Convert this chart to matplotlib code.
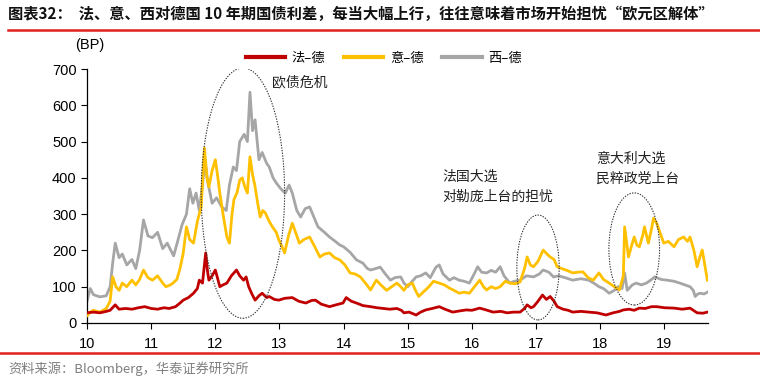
import matplotlib
matplotlib.use("Agg")
import matplotlib.pyplot as plt
from matplotlib.patches import Ellipse

plt.rcParams['font.family'] = ['Liberation Sans', 'Noto Sans CJK SC', 'DejaVu Sans']

# ---------------- data (fractional year, bp) ----------------
es_t = [10.00,10.05,10.10,10.20,10.30,10.36,10.40,10.44,10.50,10.55,10.62,10.70,10.76,10.82,10.88,10.95,
        11.02,11.10,11.18,11.25,11.35,11.42,11.48,11.55,11.60,11.65,11.70,11.75,11.80,11.84,11.88,11.95,
        12.02,12.10,12.17,12.22,12.28,12.33,12.38,12.45,12.50,12.54,12.58,12.62,12.68,12.73,12.80,12.84,12.90,12.95,
        13.02,13.09,13.15,13.20,13.27,13.33,13.40,13.47,13.54,13.60,13.70,13.78,13.87,13.94,
        14.00,14.10,14.20,14.30,14.37,14.42,14.50,14.57,14.65,14.73,14.80,14.89,14.94,
        15.00,15.07,15.13,15.20,15.28,15.35,15.44,15.49,15.55,15.65,15.72,15.80,15.88,15.96,
        16.02,16.09,16.15,16.23,16.30,16.37,16.44,16.50,16.59,16.66,16.75,16.85,16.96,
        17.05,17.11,17.20,17.27,17.35,17.45,17.57,17.70,17.82,17.90,17.98,
        18.05,18.14,18.22,18.28,18.34,18.38,18.42,18.50,18.56,18.64,18.72,18.80,18.85,18.95,
        19.04,19.15,19.24,19.32,19.40,19.45,19.48,19.52,19.56,19.62,19.67]
es_v = [60,95,78,72,75,100,165,220,180,190,160,175,150,200,284,240,
        235,250,205,220,185,230,270,300,370,330,358,310,380,450,390,330,
        345,320,310,380,430,420,500,520,500,636,530,560,450,470,440,430,400,386,
        370,358,380,358,310,292,315,320,290,265,250,237,225,215,
        210,195,174,165,150,146,150,154,135,118,125,127,110,
        100,115,127,130,138,125,154,160,135,118,125,118,115,110,
        130,155,140,138,145,140,155,130,110,115,118,130,127,
        135,146,140,127,130,125,118,122,118,110,100,
        95,82,90,100,95,138,90,105,110,105,110,120,127,120,
        118,115,110,105,100,90,73,80,82,80,85]

it_t = [10.00,10.05,10.10,10.20,10.30,10.36,10.40,10.45,10.50,10.55,10.62,10.70,10.76,10.82,10.88,10.95,
        11.02,11.10,11.18,11.23,11.30,11.34,11.40,11.45,11.50,11.55,11.60,11.66,11.72,11.78,11.83,11.87,11.90,11.95,
        12.00,12.04,12.07,12.12,12.18,12.22,12.26,12.29,12.34,12.38,12.42,12.46,12.50,12.54,12.58,12.62,12.66,12.70,
        12.74,12.78,12.84,12.89,12.95,12.99,
        13.04,13.08,13.14,13.20,13.25,13.31,13.38,13.47,13.55,13.63,13.70,13.78,13.86,13.94,
        14.02,14.10,14.18,14.26,14.34,14.42,14.51,14.58,14.67,14.75,14.83,14.89,14.94,
        15.00,15.07,15.12,15.17,15.24,15.33,15.40,15.49,15.57,15.65,15.72,15.80,15.88,15.96,
        16.04,16.12,16.18,16.23,16.30,16.37,16.44,16.52,16.59,16.67,16.75,16.82,16.86,16.91,16.96,
        17.03,17.11,17.17,17.22,17.28,17.33,17.40,17.48,17.57,17.65,17.73,17.81,17.89,17.98,
        18.05,18.14,18.22,18.30,18.36,18.38,18.44,18.50,18.53,18.57,18.61,18.66,18.69,18.75,18.80,18.83,18.88,18.93,18.99,
        19.06,19.15,19.22,19.30,19.36,19.40,19.46,19.51,19.55,19.59,19.63,19.67]
it_v = [20,30,35,30,40,60,127,100,90,110,100,118,105,120,146,125,
        118,130,110,100,105,110,120,150,193,265,230,220,280,320,482,400,375,420,
        450,400,358,300,237,220,300,340,360,394,400,375,358,458,410,375,330,292,
        310,303,280,265,250,229,
        210,193,240,275,250,220,230,237,210,182,190,193,180,174,
        160,138,135,127,110,91,118,105,90,100,110,100,90,
        105,110,90,73,85,100,115,110,105,96,90,82,85,82,
        100,118,100,91,100,95,100,115,110,108,113,150,182,160,155,
        170,201,190,182,175,155,150,145,138,140,141,125,118,138,
        120,110,100,91,130,265,182,220,237,215,210,240,265,220,260,289,275,250,220,
        225,210,230,237,225,237,200,155,180,201,160,118]

fr_t = [10.00,10.10,10.20,10.30,10.36,10.44,10.50,10.60,10.70,10.80,10.90,
        11.00,11.10,11.20,11.28,11.38,11.45,11.50,11.58,11.66,11.72,11.75,11.80,11.85,11.88,11.90,11.95,
        12.00,12.04,12.07,12.12,12.18,12.25,12.33,12.38,12.44,12.48,12.52,12.57,12.62,12.68,12.73,12.80,12.84,12.92,12.99,
        13.08,13.20,13.30,13.41,13.50,13.56,13.65,13.78,13.88,13.99,
        14.04,14.12,14.20,14.30,14.42,14.52,14.62,14.72,14.83,14.90,14.94,
        15.02,15.13,15.20,15.28,15.38,15.49,15.58,15.70,15.80,15.91,
        16.00,16.12,16.22,16.33,16.45,16.55,16.65,16.75,16.82,16.86,16.92,16.96,
        17.03,17.10,17.16,17.22,17.28,17.33,17.42,17.50,17.57,17.70,17.82,17.95,
        18.09,18.20,18.30,18.36,18.45,18.53,18.61,18.70,18.80,18.88,
        19.00,19.15,19.28,19.40,19.51,19.60,19.67]
fr_v = [28,30,28,32,35,50,38,40,38,42,45,
        40,38,42,40,45,55,63,70,82,95,118,110,193,140,118,130,
        146,120,100,105,110,130,146,130,118,127,100,80,63,75,82,70,73,65,63,
        68,70,60,55,62,63,52,45,50,55,
        70,60,55,48,45,42,40,38,40,35,28,
        30,22,30,36,40,45,38,30,33,36,
        35,41,36,30,32,28,30,30,40,50,42,45,
        60,77,65,73,60,45,38,35,30,32,30,28,
        22,28,32,36,38,35,41,40,45,45,
        42,41,38,41,28,27,30]

series_names = ['法–德', '意–德', '西–德']
series_colors = ['#C00000', '#FFC000', '#A6A6A6']

x_ticks = [10, 11, 12, 13, 14, 15, 16, 17, 18, 19]
y_ticks = [0, 100, 200, 300, 400, 500, 600, 700]

title_text = '图表32：  法、意、西对德国 10 年期国债利差，每当大幅上行，往往意味着市场开始担忧“欧元区解体”'
source_text = '资料来源：Bloomberg，华泰证券研究所'

# ---------------- figure ----------------
fig = plt.figure(figsize=(7.6, 3.87), dpi=100)
ax = fig.add_axes([0.1145, 0.1654, 0.8171, 0.6563])

cjk = ['Noto Sans CJK SC', 'DejaVu Sans']

l_es, = ax.plot(es_t, es_v, color=series_colors[2], lw=2.0, zorder=2)
l_it, = ax.plot(it_t, it_v, color=series_colors[1], lw=2.0, zorder=3)
l_fr, = ax.plot(fr_t, fr_v, color=series_colors[0], lw=2.0, zorder=4)

ax.set_xlim(10, 19.68)
ax.set_ylim(0, 700)
ax.set_xticks(x_ticks)
ax.set_xticklabels([str(v) for v in x_ticks])
ax.set_yticks(y_ticks)
ax.tick_params(axis='both', direction='out', length=4, width=0.8, labelsize=10.5, colors='black')
ax.tick_params(axis='x', pad=6)
for s in ['top', 'right']:
    ax.spines[s].set_visible(False)
for s in ['left', 'bottom']:
    ax.spines[s].set_linewidth(0.9)

# ellipses
for (cx, cy, w, h) in [(12.43, 358, 1.30, 690), (17.03, 153, 0.66, 289), (18.53, 204, 0.79, 309)]:
    ax.add_patch(Ellipse((cx, cy), w, h, fill=False, ls=(0, (1.2, 1.2)), lw=0.8,
                         edgecolor='#333333', zorder=5))

ann_kw = dict(family=cjk, fontsize=10, va='center', ha='left', color='#222222')
ax.text(12.88, 664, '欧债危机', **ann_kw)
ax.text(15.54, 402, '法国大选', **ann_kw)
ax.text(15.54, 347, '对勒庞上台的担忧', **ann_kw)
ax.text(17.93, 452, '意大利大选', **ann_kw)
ax.text(17.93, 397, '民粹政党上台', **ann_kw)

# legend
leg = fig.legend([l_fr, l_it, l_es], series_names, loc='center', bbox_to_anchor=(0.505, 1 - 58/387),
                 ncol=3, frameon=False, handlelength=3.0, columnspacing=1.4, handletextpad=0.5,
                 prop={'family': cjk, 'size': 9.5})
for h in leg.legend_handles:
    h.set_linewidth(3)

fig.text(75/760, 1 - 45/387, '(BP)', fontsize=10.5, ha='left', va='center')

# title and separators
fig.text(8/760, 1 - 14/387, title_text, family=cjk, fontsize=11, fontweight='bold',
         ha='left', va='center', color='#111111')
fig.add_artist(plt.Line2D([8/760, 1.0], [1 - 30/387, 1 - 30/387], color='#E0201B', lw=1.8))
fig.add_artist(plt.Line2D([0.0, 1.0], [1 - 353/387, 1 - 353/387], color='#E0201B', lw=1.8))
fig.text(8/760, 1 - 369/387, source_text, family=cjk, fontsize=9.5, ha='left', va='center',
         color='#7F7F7F')

fig.savefig('out.png', dpi=100)
